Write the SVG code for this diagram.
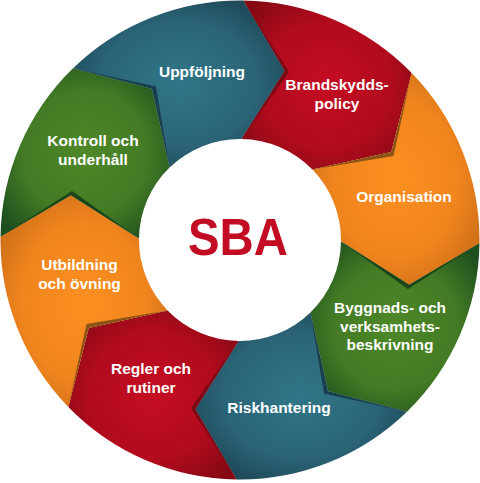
<svg xmlns="http://www.w3.org/2000/svg" width="480" height="483" viewBox="0 0 480 483">
  <defs>
    <radialGradient id="gTeal" cx="50%" cy="50%" r="62%">
      <stop offset="0" stop-color="#307688"/>
      <stop offset="0.6" stop-color="#2a6476"/>
      <stop offset="1" stop-color="#1a4250"/>
    </radialGradient>
    <radialGradient id="gRed" cx="50%" cy="50%" r="62%">
      <stop offset="0" stop-color="#c40d22"/>
      <stop offset="0.6" stop-color="#b20b1e"/>
      <stop offset="1" stop-color="#860a14"/>
    </radialGradient>
    <radialGradient id="gOrange" cx="50%" cy="50%" r="62%">
      <stop offset="0" stop-color="#fb8f20"/>
      <stop offset="0.6" stop-color="#f0851d"/>
      <stop offset="1" stop-color="#c86a17"/>
    </radialGradient>
    <radialGradient id="gGreen" cx="50%" cy="50%" r="62%">
      <stop offset="0" stop-color="#4e8828"/>
      <stop offset="0.6" stop-color="#437a24"/>
      <stop offset="1" stop-color="#1d4f1f"/>
    </radialGradient>
  </defs>
  <style>
    .lbl { font-family: "Liberation Sans", Arial, sans-serif; font-weight: bold; font-size: 15.5px; fill: #ffffff; text-anchor: middle; }
    .sba { font-family: "Liberation Sans", Arial, sans-serif; font-weight: bold; font-size: 52px; fill: #c10c24; text-anchor: middle; }
    .teal { fill: url(#gTeal); }
    .red { fill: url(#gRed); }
    .orange { fill: url(#gOrange); }
    .green { fill: url(#gGreen); }
    .shTeal { fill: #1a3f4c; }
    .shRed { fill: #7a0a14; }
    .shOrange { fill: #8a5214; }
    .shGreen { fill: #1b441b; }
  </style>
  <rect x="0" y="0" width="480" height="483" fill="#ffffff"/>

  <g id="brandskyddspolicy">
    <path class="red" d="M243.34,0.52 A239.5,239.5 0 0 1 411.70,73.03 L391.25,151.97 L312.41,169.59 A101,101 0 0 0 241.41,139.01 L284.70,70.81 Z"/>
    <text class="lbl" x="337" y="90">Brandskydds-</text>
    <text class="lbl" x="337" y="109">policy</text>
  </g>
  <g id="organisation">
    <path class="orange" d="M411.70,73.03 A239.5,239.5 0 0 1 479.48,243.34 L409.19,284.70 L340.99,241.41 A101,101 0 0 0 312.41,169.59 L391.25,151.97 Z"/>
    <text class="lbl" x="404" y="202">Organisation</text>
  </g>
  <g id="byggnads">
    <path class="green" d="M479.48,243.34 A239.5,239.5 0 0 1 406.97,411.70 L328.03,391.25 L310.41,312.41 A101,101 0 0 0 340.99,241.41 L409.19,284.70 Z"/>
    <text class="lbl" x="390" y="313">Byggnads- och</text>
    <text class="lbl" x="390" y="331.5">verksamhets-</text>
    <text class="lbl" x="390" y="350">beskrivning</text>
  </g>
  <g id="riskhantering">
    <path class="teal" d="M406.97,411.70 A239.5,239.5 0 0 1 236.66,479.48 L195.30,409.19 L238.59,340.99 A101,101 0 0 0 310.41,312.41 L328.03,391.25 Z"/>
    <text class="lbl" x="279" y="413">Riskhantering</text>
  </g>
  <g id="regler">
    <path class="red" d="M236.66,479.48 A239.5,239.5 0 0 1 68.30,406.97 L88.75,328.03 L167.59,310.41 A101,101 0 0 0 238.59,340.99 L195.30,409.19 Z"/>
    <text class="lbl" x="151" y="374">Regler och</text>
    <text class="lbl" x="151" y="392.5">rutiner</text>
  </g>
  <g id="utbildning">
    <path class="orange" d="M68.30,406.97 A239.5,239.5 0 0 1 0.52,236.66 L70.81,195.30 L139.01,238.59 A101,101 0 0 0 167.59,310.41 L88.75,328.03 Z"/>
    <text class="lbl" x="79.5" y="270">Utbildning</text>
    <text class="lbl" x="79.5" y="289">och övning</text>
  </g>
  <g id="kontroll">
    <path class="green" d="M0.52,236.66 A239.5,239.5 0 0 1 73.03,68.30 L151.97,88.75 L169.59,167.59 A101,101 0 0 0 139.01,238.59 L70.81,195.30 Z"/>
    <text class="lbl" x="93" y="146">Kontroll och</text>
    <text class="lbl" x="93" y="164.5">underhåll</text>
  </g>
  <g id="uppfoljning">
    <path class="teal" d="M73.03,68.30 A239.5,239.5 0 0 1 243.34,0.52 L284.70,70.81 L241.41,139.01 A101,101 0 0 0 169.59,167.59 L151.97,88.75 Z"/>
    <text class="lbl" x="202" y="77">Uppföljning</text>
  </g>

  <g id="shadows">
    <path class="shRed" d="M243.34,0.52 L289.12,72.03 L241.41,139.01 L284.70,70.81 Z"/>
    <path class="shOrange" d="M411.70,73.03 L393.50,155.96 L312.41,169.59 L391.25,151.97 Z"/>
    <path class="shGreen" d="M479.48,243.34 L407.97,289.12 L340.99,241.41 L409.19,284.70 Z"/>
    <path class="shTeal" d="M406.97,411.70 L324.04,393.50 L310.41,312.41 L328.03,391.25 Z"/>
    <path class="shRed" d="M236.66,479.48 L190.88,407.97 L238.59,340.99 L195.30,409.19 Z"/>
    <path class="shOrange" d="M68.30,406.97 L86.50,324.04 L167.59,310.41 L88.75,328.03 Z"/>
    <path class="shGreen" d="M0.52,236.66 L72.03,190.88 L139.01,238.59 L70.81,195.30 Z"/>
    <path class="shTeal" d="M73.03,68.30 L155.96,86.50 L169.59,167.59 L151.97,88.75 Z"/>
  </g>

  <g id="center">
    <text class="sba" transform="translate(238,255) scale(0.91,1)" x="0" y="0">SBA</text>
  </g>
</svg>
